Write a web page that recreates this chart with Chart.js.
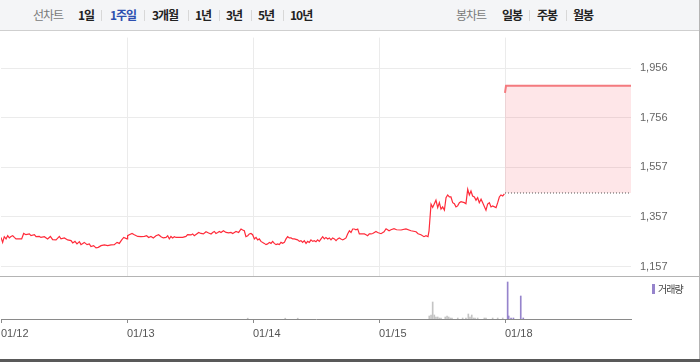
<!DOCTYPE html>
<html>
<head>
<meta charset="utf-8">
<script src="https://cdn.jsdelivr.net/npm/chart.js@4.4.0/dist/chart.umd.min.js"></script>
<style>
  body { margin: 0; width: 700px; height: 362px; overflow: hidden; background: #fff; font-family: "Noto Sans CJK KR", sans-serif; }
  #wrap { position: relative; width: 700px; height: 362px; }
  #tabs { position: absolute; left: 0; top: 0; width: 699px; height: 30px; background: #f4f5f7; border-bottom: 1px solid #cfcfcf; }
  #tabs span { position: absolute; top: 0; line-height: 30px; font-size: 12px; color: #222; font-weight: bold; letter-spacing: -1px; white-space: nowrap; }
  #tabs span.lbl { color: #7a7a7a; font-weight: normal; }
  #tabs span.on { color: #2d4fb0; }
  #tabs span.sep { width: 1px; height: 11px; top: 10px; background: #d8d8d8; }
  #pricebox { position: absolute; left: 0; top: 22px; width: 700px; height: 270px; }
  #volbox { position: absolute; left: 0; top: 277px; width: 700px; height: 65px; }
  .line { position: absolute; }
  #legend { position: absolute; left: 652px; top: 282px; font-size: 10px; color: #444; letter-spacing: -1px; line-height: 14px; }
  #legend i { display: inline-block; width: 3px; height: 10px; background: #9684cc; margin-right: 3px; vertical-align: -1px; }
</style>
</head>
<body>
<div id="wrap">
  <div id="tabs"></div>
  <div id="volbox"><canvas id="vol"></canvas></div>
  <div id="pricebox"><canvas id="price"></canvas></div>
  <div class="line" style="left:0;top:276px;width:700px;height:1px;background:#b4b4b4"></div>
  <div class="line" style="left:699px;top:0;width:1px;height:360px;background:#b4b4b4"></div>
  <div class="line" style="left:0;top:359px;width:700px;height:3px;background:#595959"></div>
  <div id="legend"><i></i>거래량</div>
</div>
<script>
// header tabs: [text, left, kind]
const lineTabs = [["선차트", 33, "lbl"], ["1일", 78, ""], ["1주일", 110, "on"], ["3개월", 152, ""], ["1년", 195, ""], ["3년", 226, ""], ["5년", 258, ""], ["10년", 290, ""]];
const lineSeps = [101, 144, 188, 219, 251, 283];
const candleTabs = [["봉차트", 456, "lbl"], ["일봉", 502, ""], ["주봉", 537, ""], ["월봉", 573, ""]];
const candleSeps = [529, 566];

// x values are in trading days from the left edge (0 = 01/12 open)
const dateLabels = ["01/12", "01/13", "01/14", "01/15", "01/18"];
const priceTicks = [1157, 1357, 1557, 1756, 1956];
const prevClose = 1453;

const priceTimes = [
  0.000, 0.013, 0.026, 0.040, 0.053, 0.066, 0.079, 0.093, 0.106, 0.119, 0.146, 0.164, 0.180, 0.198, 0.225, 0.238,
  0.265, 0.278, 0.304, 0.317, 0.344, 0.370, 0.392, 0.410, 0.437, 0.463, 0.476, 0.503, 0.529, 0.556, 0.569, 0.587,
  0.603, 0.622, 0.635, 0.661, 0.683, 0.701, 0.714, 0.735, 0.754, 0.772, 0.794, 0.820, 0.847, 0.873, 0.899, 0.921,
  0.939, 0.958, 0.974, 1.000,
  1.005, 1.018, 1.040, 1.058, 1.085, 1.111, 1.138, 1.156, 1.172, 1.190, 1.209, 1.230, 1.251, 1.270, 1.288, 1.310,
  1.323, 1.336, 1.349, 1.362, 1.376, 1.389, 1.415, 1.442, 1.468, 1.481, 1.508, 1.521, 1.534, 1.553, 1.569, 1.587,
  1.606, 1.627, 1.648, 1.667, 1.680, 1.693, 1.706, 1.720, 1.733, 1.746, 1.765, 1.786, 1.807, 1.825, 1.839, 1.852,
  1.865, 1.886, 1.905, 1.918, 1.931, 1.944, 1.958, 1.971, 1.984, 1.997,
  2.011, 2.024, 2.037, 2.050, 2.063, 2.090, 2.103, 2.116, 2.130, 2.143, 2.156, 2.169, 2.183, 2.196, 2.209, 2.222,
  2.235, 2.249, 2.262, 2.275, 2.288, 2.302, 2.315, 2.328, 2.354, 2.368, 2.381, 2.394, 2.407, 2.421, 2.434, 2.447,
  2.460, 2.474, 2.487, 2.500, 2.513, 2.526, 2.540, 2.553, 2.566, 2.579, 2.593, 2.606, 2.619, 2.632, 2.646, 2.659,
  2.672, 2.685, 2.698, 2.712, 2.725, 2.738, 2.751, 2.765, 2.778, 2.791, 2.804, 2.817, 2.831, 2.844, 2.857, 2.884,
  2.897, 2.910, 2.923, 2.937, 2.950, 2.963, 2.976, 2.989,
  3.016, 3.040, 3.056, 3.080, 3.095, 3.119, 3.140, 3.175, 3.214, 3.254, 3.294, 3.310, 3.333, 3.357, 3.373, 3.389,
  3.397, 3.413, 3.426, 3.452, 3.466, 3.479, 3.492, 3.505, 3.519, 3.532, 3.545, 3.558, 3.571, 3.585, 3.598, 3.611,
  3.624, 3.638, 3.651, 3.677, 3.690, 3.704, 3.717, 3.730, 3.743, 3.757, 3.770, 3.783, 3.796, 3.810, 3.823, 3.849,
  3.862, 3.876, 3.889, 3.902, 3.929, 3.942, 3.955, 3.968, 3.982, 3.995
];
const priceValues = [
  1274, 1254, 1277, 1268, 1281, 1272, 1278, 1281, 1274, 1268, 1268, 1268, 1290, 1285, 1288, 1281,
  1285, 1277, 1278, 1274, 1277, 1268, 1278, 1265, 1264, 1278, 1268, 1272, 1264, 1261, 1252, 1258,
  1248, 1257, 1245, 1254, 1245, 1248, 1237, 1241, 1232, 1234, 1241, 1244, 1241, 1244, 1245, 1254,
  1250, 1264, 1274, 1268,
  1281, 1285, 1290, 1285, 1278, 1277, 1278, 1281, 1274, 1278, 1272, 1281, 1285, 1277, 1272, 1274,
  1281, 1268, 1278, 1272, 1277, 1274, 1274, 1274, 1278, 1285, 1284, 1288, 1281, 1288, 1294, 1290,
  1288, 1297, 1292, 1288, 1294, 1298, 1290, 1294, 1298, 1294, 1301, 1294, 1292, 1294, 1290, 1294,
  1298, 1294, 1308, 1304, 1301, 1277, 1281, 1288, 1290, 1285,
  1268, 1274, 1264, 1268, 1258, 1250, 1245, 1248, 1254, 1250, 1258, 1250, 1245, 1248, 1245, 1254,
  1250, 1254, 1268, 1277, 1272, 1272, 1268, 1268, 1264, 1258, 1261, 1254, 1261, 1250, 1258, 1254,
  1264, 1258, 1261, 1257, 1264, 1258, 1268, 1277, 1268, 1274, 1268, 1272, 1264, 1272, 1268, 1261,
  1268, 1272, 1268, 1264, 1268, 1272, 1288, 1301, 1294, 1308, 1308, 1305, 1308, 1288, 1288, 1288,
  1285, 1281, 1288, 1288, 1290, 1294, 1298, 1294,
  1289, 1297, 1309, 1301, 1305, 1309, 1305, 1304, 1308, 1301, 1297, 1289, 1285, 1277, 1281, 1277,
  1300, 1408, 1395, 1424, 1394, 1414, 1388, 1397, 1384, 1434, 1445, 1437, 1437, 1414, 1410, 1397,
  1401, 1414, 1418, 1414, 1410, 1468, 1445, 1461, 1441, 1437, 1424, 1434, 1414, 1428, 1414, 1384,
  1408, 1414, 1397, 1401, 1394, 1414, 1437, 1445, 1441, 1449
];

const todayTimes = [4.000, 4.008, 5.000];
const todayValues = [1856, 1885, 1885];

const pastVolTimes = [1.958, 2.256, 2.355, 3.399, 3.413, 3.426, 3.439, 3.452, 3.466, 3.479, 3.492, 3.526, 3.540, 3.553,
  3.566, 3.579, 3.625, 3.664, 3.690, 3.709, 3.722, 3.736, 3.749, 3.762, 3.783, 3.836, 3.849, 3.902, 3.942, 3.982];
const pastVolumes = [80, 80, 80, 300, 400, 1700, 400, 200, 200, 100, 100, 200, 300, 200,
  100, 100, 100, 100, 100, 500, 200, 400, 100, 100, 100, 100, 100, 100, 100, 100];
const todayVolTimes = [4.021, 4.029, 4.048, 4.067, 4.125, 4.145];
const todayVolumes = [3700, 300, 100, 100, 2300, 100];

const tabs = document.getElementById("tabs");
function addTab(text, left, kind) {
  const s = document.createElement("span");
  s.textContent = text;
  s.style.left = left + "px";
  if (kind) s.className = kind;
  tabs.appendChild(s);
}
function addSep(left) {
  const s = document.createElement("span");
  s.className = "sep";
  s.style.left = left + "px";
  tabs.appendChild(s);
}
lineTabs.forEach(t => addTab(t[0], t[1], t[2]));
candleTabs.forEach(t => addTab(t[0], t[1], t[2]));
lineSeps.concat(candleSeps).forEach(addSep);

const toPoints = (xs, ys) => xs.map((x, i) => ({ x: x, y: ys[i] }));
const axisFont = { family: "'Liberation Sans', Arial, sans-serif", size: 11 };

new Chart(document.getElementById("price"), {
  type: "line",
  data: {
    datasets: [
      { data: toPoints(priceTimes, priceValues), borderColor: "#ff2b3a", borderWidth: 1.2, pointRadius: 0, tension: 0 },
      { data: [{ x: 4, y: prevClose }, { x: 5, y: prevClose }], borderColor: "#555", borderWidth: 1, borderDash: [1, 2], pointRadius: 0 },
      { data: toPoints(todayTimes, todayValues), borderColor: "#f47a7e", borderWidth: 2, pointRadius: 0, tension: 0,
        fill: { target: 1 }, backgroundColor: "rgba(245,80,95,0.14)" }
    ]
  },
  options: {
    animation: false,
    responsive: true,
    maintainAspectRatio: false,
    layout: { padding: { left: 1, top: 5, right: 0, bottom: 0 } },
    plugins: { legend: { display: false }, tooltip: { enabled: false } },
    scales: {
      x: {
        type: "linear", min: 0, max: 5,
        afterBuildTicks(s) { s.ticks = [1, 2, 3, 4].map(v => ({ value: v })); },
        ticks: { display: false },
        grid: { color: "#ebebeb", drawTicks: false },
        border: { display: false },
        afterFit(s) { s.height = 0; }
      },
      y: {
        position: "right", min: 1117, max: 2079,
        afterBuildTicks(s) { s.ticks = priceTicks.map(v => ({ value: v })); },
        ticks: { callback: v => v.toLocaleString("en-US"), color: "#666", font: axisFont, padding: 9 },
        grid: { color: "#ebebeb", drawTicks: false },
        border: { display: false },
        afterFit(s) { s.width = 69; }
      }
    }
  }
});

new Chart(document.getElementById("vol"), {
  type: "bar",
  data: {
    datasets: [
      { data: toPoints(pastVolTimes, pastVolumes), backgroundColor: "#c4c4c4", barThickness: 1, grouped: false },
      { data: toPoints(todayVolTimes, todayVolumes), backgroundColor: "#9684cc", barThickness: 1, grouped: false }
    ]
  },
  options: {
    animation: false,
    responsive: true,
    maintainAspectRatio: false,
    layout: { padding: { left: 1, top: 0, right: 69, bottom: 0 } },
    plugins: { legend: { display: false }, tooltip: { enabled: false } },
    scales: {
      x: {
        type: "linear", min: 0, max: 5, offset: false,
        afterBuildTicks(s) { s.ticks = dateLabels.map((d, i) => ({ value: i })); },
        ticks: { align: "start", callback: v => dateLabels[v], color: "#555", font: axisFont, padding: 4, maxRotation: 0, autoSkip: false },
        grid: { drawOnChartArea: false, offset: false, tickLength: 4, color: "#8a8a8a" },
        border: { color: "#8a8a8a" },
        afterFit(s) { s.height = 23; s.paddingLeft = 0; s.paddingRight = 0; }
      },
      y: { display: false, min: 0, max: 4200 }
    }
  }
});
</script>
</body>
</html>
